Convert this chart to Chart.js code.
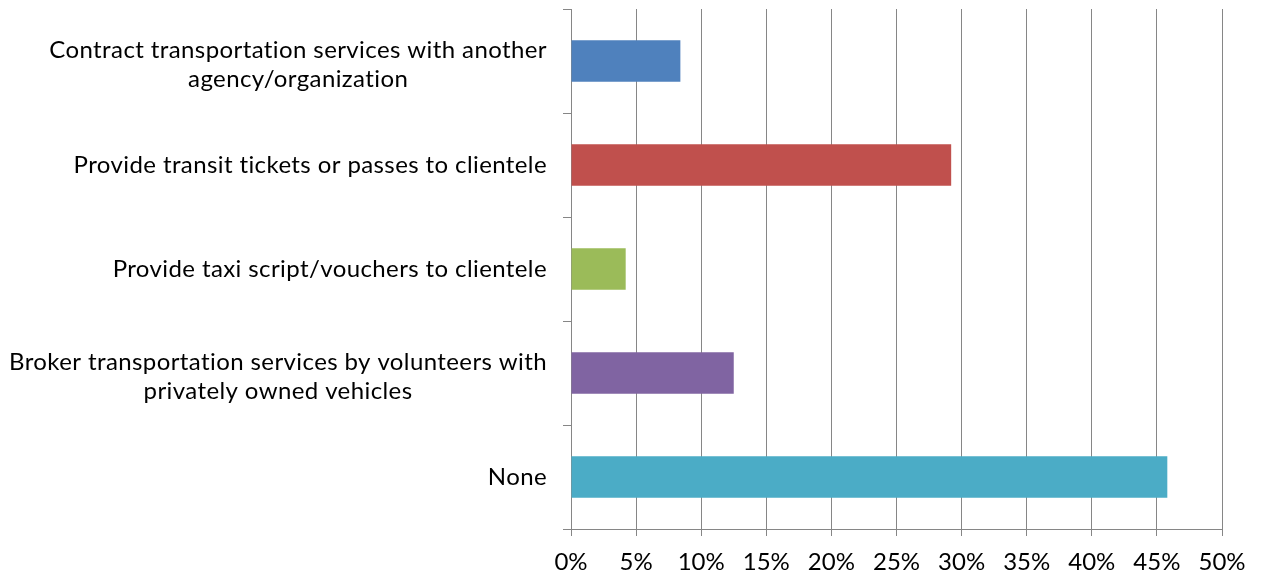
<!DOCTYPE html>
<html>
<head>
<meta charset="utf-8">
<script src="https://cdn.jsdelivr.net/npm/chart.js@4/dist/chart.umd.min.js"></script>
<style>
  html, body { margin: 0; padding: 0; background: #fff; }
  canvas { display: block; }
</style>
</head>
<body>
<canvas id="transportChart" width="1269" height="578"></canvas>
<script>
var categories = [
    ['Contract transportation services with another', 'agency/organization'],
    'Provide transit tickets or passes to clientele',
    'Provide taxi script/vouchers to clientele',
    ['Broker transportation services by volunteers with', 'privately owned vehicles'],
    'None'
];
var shares = [8.4, 29.2, 4.2, 12.5, 45.8];
var barColors = ['#4F81BD', '#C0504D', '#9BBB59', '#8064A2', '#4BACC6'];
var xTicks = [0, 5, 10, 15, 20, 25, 30, 35, 40, 45, 50];

var axisGray = '#868686';
var labelFont = '24px Lato';

// category labels: each block right-aligned to the axis, lines centred inside the block
var categoryLabels = {
    id: 'categoryLabels',
    afterDraw: function(chart) {
        var ctx = chart.ctx;
        var yScale = chart.scales.y;
        var right = chart.chartArea.left - 24;
        ctx.save();
        ctx.font = labelFont;
        ctx.letterSpacing = '0.4px';
        ctx.fillStyle = '#000';
        ctx.textAlign = 'center';
        ctx.textBaseline = 'middle';
        categories.forEach(function(label, i) {
            var lines = Array.isArray(label) ? label : [label];
            var widest = Math.max.apply(null, lines.map(function(l) { return ctx.measureText(l).width; }));
            var cx = right - widest / 2;
            var cy = yScale.getPixelForTick(i) + (lines.length > 1 ? 4 : 0);
            lines.forEach(function(line, j) {
                ctx.fillText(line, cx, cy + (j - (lines.length - 1) / 2) * 29);
            });
        });
        ctx.restore();
    }
};

var chart = new Chart(document.getElementById('transportChart').getContext('2d'), {
    type: 'bar',
    data: {
        labels: categories,
        datasets: [{
            data: shares,
            backgroundColor: barColors,
            borderWidth: 0,
            categoryPercentage: 1,
            barPercentage: 0.4
        }]
    },
    options: {
        indexAxis: 'y',
        responsive: false,
        animation: false,
        devicePixelRatio: 1,
        layout: { padding: { top: 9, right: 47, left: 0, bottom: 0 } },
        plugins: { legend: { display: false }, tooltip: { enabled: false } },
        scales: {
            x: {
                min: 0,
                max: 50,
                afterBuildTicks: function(scale) {
                    scale.ticks = xTicks.map(function(v) { return { value: v }; });
                },
                afterFit: function(scale) { scale.height = 49; },
                grid: { color: axisGray, lineWidth: 1, tickLength: 7 },
                border: { color: axisGray, width: 1 },
                ticks: {
                    font: { family: 'Lato', size: 24 },
                    color: '#000',
                    padding: 12,
                    maxRotation: 0,
                    callback: function(v) { return v + '%'; }
                }
            },
            y: {
                afterFit: function(scale) { scale.width = 571; },
                grid: { drawOnChartArea: false, offset: true, color: axisGray, tickLength: 8 },
                border: { color: axisGray, width: 1 },
                ticks: { display: false }
            }
        }
    },
    plugins: [categoryLabels]
});
</script>
</body>
</html>
